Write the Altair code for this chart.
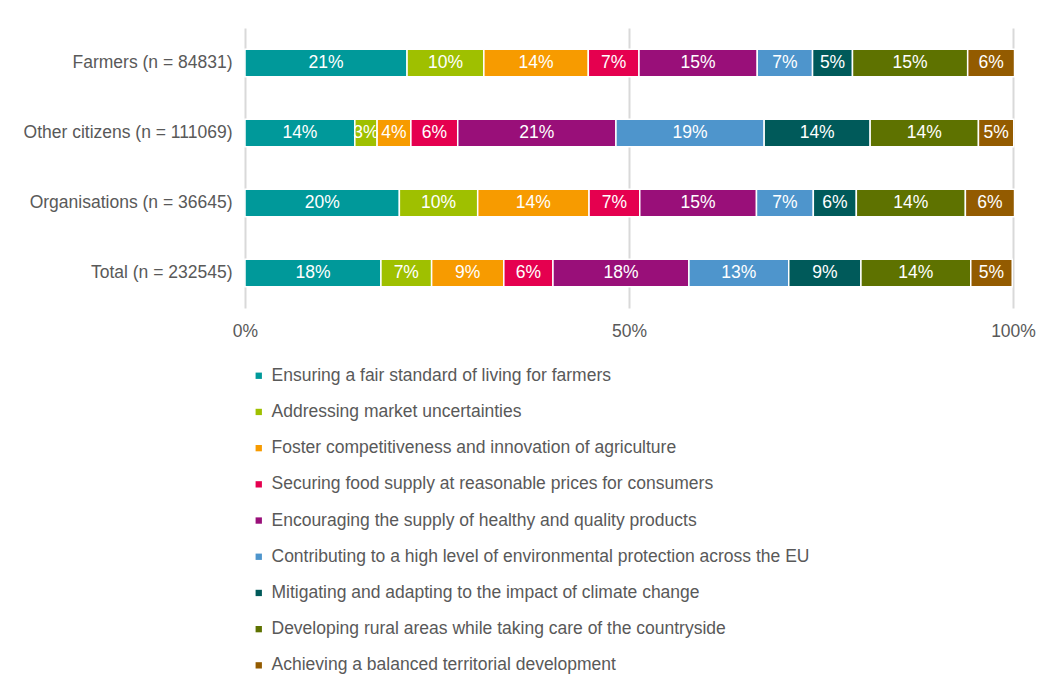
import altair as alt
import pandas as pd

groups = ["Farmers (n = 84831)", "Other citizens (n = 111069)",
          "Organisations (n = 36645)", "Total (n = 232545)"]

categories = [
    "Ensuring a fair standard of living for farmers",
    "Addressing market uncertainties",
    "Foster competitiveness and innovation of agriculture",
    "Securing food supply at reasonable prices for consumers",
    "Encouraging the supply of healthy and quality products",
    "Contributing to a high level of environmental protection across the EU",
    "Mitigating and adapting to the impact of climate change",
    "Developing rural areas while taking care of the countryside",
    "Achieving a balanced territorial development",
]

colors = ["#00999A", "#9FC000", "#F79B00", "#E5004F", "#990F79",
          "#4E95CC", "#005A5A", "#5E7200", "#935B00"]

farmers = [21.1, 10.0, 13.6, 6.6, 15.4, 7.2, 5.2, 15.0, 6.1]
citizens = [14.3, 2.9, 4.4, 6.1, 20.6, 19.3, 13.8, 14.1, 4.6]
organisations = [20.1, 10.2, 14.5, 6.6, 15.2, 7.4, 5.6, 14.2, 6.4]
total = [17.7, 6.6, 9.4, 6.4, 17.7, 13.0, 9.4, 14.3, 5.4]

rows = []
for g, vals in zip(groups, [farmers, citizens, organisations, total]):
    for i, (c, v) in enumerate(zip(categories, vals)):
        rows.append({"group": g, "cat": c, "idx": i, "value": v / 100.0})
df = pd.DataFrame(rows)

FONT = "Liberation Sans"
GREY = "#595959"
FS = 17.5

y_enc = alt.Y("group:N", sort=groups, title=None,
              scale=alt.Scale(paddingInner=0.61, paddingOuter=0.305),
              axis=alt.Axis(domain=False, ticks=False, labelPadding=13,
                            labelFontSize=FS, labelColor=GREY, labelFont=FONT,
                            labelLimit=400))

base = alt.Chart(df).transform_stack(
    stack="value", groupby=["group"], as_=["x0", "x1"],
    sort=[alt.SortField("idx", order="ascending")]
).transform_calculate(mid="(datum.x0 + datum.x1) / 2")

bars = base.mark_bar(stroke="white", strokeWidth=1.5).encode(
    x=alt.X("x0:Q", title=None,
            scale=alt.Scale(domain=[0, 1], nice=False),
            axis=alt.Axis(values=[0, 0.5, 1], format=".0%", domain=False,
                          ticks=False, grid=True, gridColor="#D9D9D9",
                          gridWidth=2, labelFontSize=FS, labelColor=GREY,
                          labelFont=FONT, labelPadding=14, labelFlush=False)),
    x2="x1:Q",
    y=y_enc,
    color=alt.Color("cat:N", sort=categories,
                    scale=alt.Scale(domain=categories, range=colors),
                    legend=alt.Legend(title=None, orient="none", legendX=5,
                                      legendY=339, direction="vertical",
                                      symbolType="square", symbolSize=40,
                                      symbolStrokeWidth=0,
                                      labelFontSize=FS, labelColor=GREY,
                                      labelFont=FONT, labelLimit=800,
                                      rowPadding=17.2, labelOffset=4)),
)

labels = base.mark_text(color="white", fontSize=FS, font=FONT,
                        baseline="middle", align="center").encode(
    x=alt.X("mid:Q"),
    y=alt.Y("group:N", sort=groups),
    text=alt.Text("value:Q", format=".0%"),
)

chart = alt.layer(bars, labels).properties(
    width=768, height=280,
    background="white",
    autosize=alt.AutoSizeParams(type="none"),
    padding={"left": 237, "top": 20, "right": 38, "bottom": 377},
).configure_view(stroke="transparent", strokeWidth=0)

chart.save("out.html", embed_options={"renderer": "svg", "actions": False})
